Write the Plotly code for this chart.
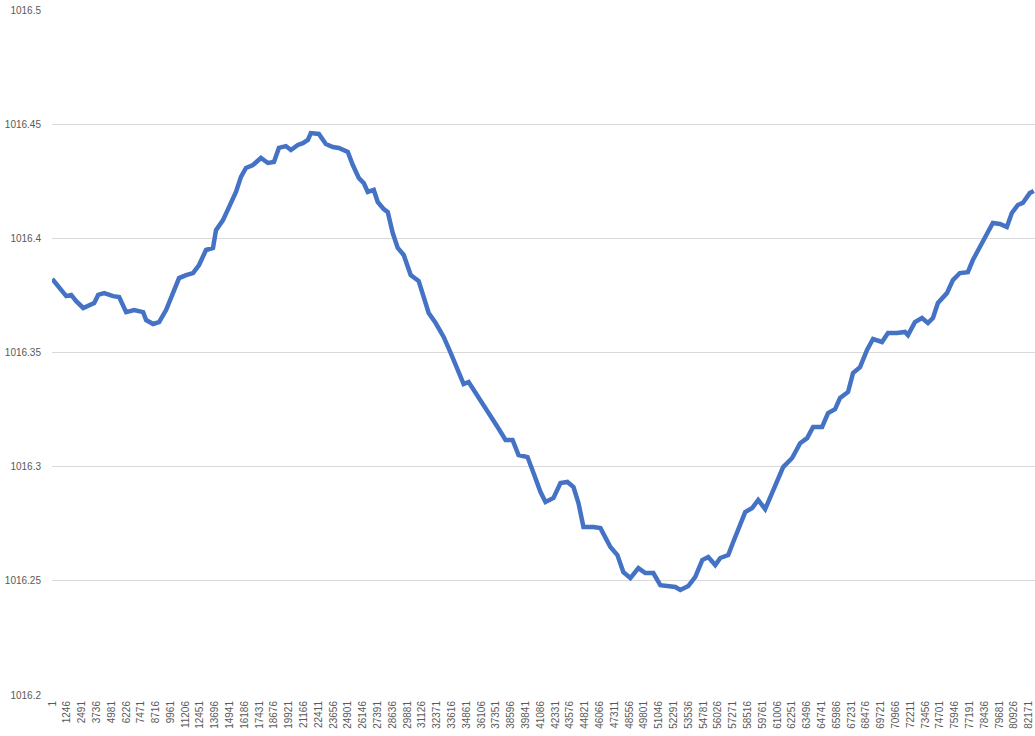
import plotly.graph_objects as go

# Sample index (category number) and reading
sample_index = [1, 589, 1177, 1597, 2017, 2605, 3109, 3529, 3865, 4369, 5125, 5629, 6217, 6889, 7645, 7897,
                8485, 8989, 9577, 10165, 10669, 11257, 11845, 12349, 12937, 13525, 13777, 14365, 14869, 15457,
                15877, 16297, 16885, 17557, 18145, 18649, 19069, 19657, 20077, 20665, 21085, 21505, 21757, 22429,
                23017, 23605, 24109, 24865, 25285, 25789, 26209, 26545, 27049, 27385, 27889, 28225, 28645, 29065,
                29569, 30157, 30829, 31249, 31669, 32257, 32929, 33517, 34105, 34609, 35029, 35869, 36625, 37465,
                38137, 38725, 39229, 39985, 40489, 41077, 41497, 42169, 42757, 43345, 43849, 44269, 44689, 45529,
                46117, 46537, 46957, 47545, 48049, 48637, 49309, 49897, 50569, 51157, 51829, 52417, 52837, 53509,
                54097, 54685, 55189, 55777, 56197, 56869, 57289, 57877, 58297, 58885, 59389, 59977, 60397, 60985,
                61489, 62245, 62917, 63505, 64009, 64765, 65269, 65857, 66277, 66949, 67369, 67957, 68545, 69049,
                69805, 70309, 71065, 71737, 71989, 72577, 73165, 73669, 74089, 74509, 75265, 75769, 76357, 77029,
                77449, 78037, 78625, 79129, 79717, 80305, 80725, 81229, 81649, 82237, 82573]

pressure = [1016.3822, 1016.3787, 1016.3747, 1016.3752, 1016.3725, 1016.3695, 1016.3708, 1016.3717, 1016.3752,
            1016.3760, 1016.3747, 1016.3743, 1016.3677, 1016.3686, 1016.3677, 1016.3642, 1016.3625, 1016.3633,
            1016.3686, 1016.3760, 1016.3826, 1016.3839, 1016.3848, 1016.3883, 1016.3949, 1016.3958, 1016.4036,
            1016.4080, 1016.4137, 1016.4203, 1016.4269, 1016.4308, 1016.4321, 1016.4352, 1016.4330, 1016.4334,
            1016.4396, 1016.4404, 1016.4387, 1016.4409, 1016.4417, 1016.4431, 1016.4461, 1016.4457, 1016.4413,
            1016.4400, 1016.4396, 1016.4378, 1016.4321, 1016.4264, 1016.4242, 1016.4203, 1016.4212, 1016.4159,
            1016.4128, 1016.4115, 1016.4023, 1016.3958, 1016.3927, 1016.3839, 1016.3813, 1016.3743, 1016.3673,
            1016.3629, 1016.3568, 1016.3498, 1016.3423, 1016.3362, 1016.3371, 1016.3305, 1016.3239, 1016.3174,
            1016.3117, 1016.3117, 1016.3051, 1016.3042, 1016.2972, 1016.2889, 1016.2845, 1016.2863, 1016.2928,
            1016.2933, 1016.2911, 1016.2841, 1016.2736, 1016.2736, 1016.2731, 1016.2692, 1016.2648, 1016.2613,
            1016.2538, 1016.2512, 1016.2556, 1016.2534, 1016.2534, 1016.2481, 1016.2477, 1016.2473, 1016.2460,
            1016.2477, 1016.2517, 1016.2591, 1016.2604, 1016.2569, 1016.2600, 1016.2613, 1016.2670, 1016.2753,
            1016.2801, 1016.2819, 1016.2854, 1016.2814, 1016.2863, 1016.2941, 1016.2998, 1016.3038, 1016.3103,
            1016.3125, 1016.3174, 1016.3174, 1016.3235, 1016.3252, 1016.3301, 1016.3327, 1016.3410, 1016.3436,
            1016.3511, 1016.3559, 1016.3546, 1016.3585, 1016.3585, 1016.3590, 1016.3576, 1016.3633, 1016.3651,
            1016.3629, 1016.3651, 1016.3717, 1016.3760, 1016.3817, 1016.3848, 1016.3852, 1016.3905, 1016.3962,
            1016.4014, 1016.4067, 1016.4063, 1016.4050, 1016.4111, 1016.4146, 1016.4155, 1016.4198, 1016.4207]

# Category-axis labels (every 1245th sample)
x_tick_labels = ["1", "1246", "2491", "3736", "4981", "6226", "7471", "8716", "9961", "11206", "12451",
                 "13696", "14941", "16186", "17431", "18676", "19921", "21166", "22411", "23656", "24901",
                 "26146", "27391", "28636", "29881", "31126", "32371", "33616", "34861", "36106", "37351",
                 "38596", "39841", "41086", "42331", "43576", "44821", "46066", "47311", "48556", "49801",
                 "51046", "52291", "53536", "54781", "56026", "57271", "58516", "59761", "61006", "62251",
                 "63496", "64741", "65986", "67231", "68476", "69721", "70966", "72211", "73456", "74701",
                 "75946", "77191", "78436", "79681", "80926", "82171"]
x_tick_values = [int(t) for t in x_tick_labels]

y_tick_values = [1016.2, 1016.25, 1016.3, 1016.35, 1016.4, 1016.45, 1016.5]
y_tick_labels = ["1016.2", "1016.25", "1016.3", "1016.35", "1016.4", "1016.45", "1016.5"]

fig = go.Figure()
fig.add_trace(go.Scatter(
    x=sample_index, y=pressure, mode="lines",
    line=dict(color="#4472C4", width=4.5),
    showlegend=False, hoverinfo="skip",
))

font_family = "Liberation Sans, Arial, sans-serif"
fig.update_layout(
    width=1035, height=736,
    margin=dict(l=52, r=0, t=10, b=41, autoexpand=False),
    paper_bgcolor="white", plot_bgcolor="white",
    font=dict(family=font_family, size=10, color="#595959"),
    showlegend=False,
)
fig.update_xaxes(
    range=[-20, 82676],
    tickmode="array", tickvals=x_tick_values, ticktext=x_tick_labels,
    tickangle=-90, tickfont=dict(size=10, color="#595959", family=font_family),
    showgrid=False, zeroline=False, showline=False, ticks="",
    ticklabelstandoff=3, ticklabeloverflow="allow", automargin=False,
)
fig.update_yaxes(
    range=[1016.2, 1016.5],
    tickmode="array", tickvals=y_tick_values, ticktext=y_tick_labels,
    tickfont=dict(size=10, color="#595959", family=font_family),
    showgrid=True, gridcolor="#D9D9D9", gridwidth=1,
    zeroline=False, showline=False, ticks="",
    ticklabelstandoff=10, automargin=False,
)

# Remove the browser's default 8px body margin so the figure fills the window exactly.
fig.write_html(
    "out.html",
    config={"displayModeBar": False},
    post_script="document.body.style.margin='0';document.body.style.overflow='hidden';",
)
